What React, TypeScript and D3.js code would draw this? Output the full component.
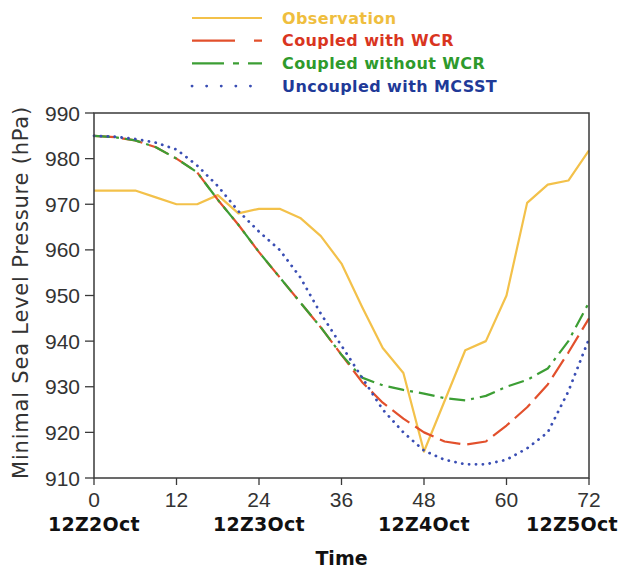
import React from "react";
import * as d3 from "d3";

// Forecast hours (every 3 h) for the model runs
const modelHours = [0, 3, 6, 9, 12, 15, 18, 21, 24, 27, 30, 33, 36, 39, 42, 45, 48, 51, 54, 57, 60, 63, 66, 69, 72];
// Observed best-track times and minimal SLP (hPa)
const obsHours = [0, 6, 9, 12, 15, 18, 21, 24, 27, 30, 33, 36, 39, 42, 45, 48, 54, 57, 60, 63, 66, 69, 72];
const observation = [973, 973, 971.5, 970, 970, 972, 968, 969, 969, 967, 963, 957, 947.5, 938.5, 933, 915.8, 938, 940, 950, 970.3, 974.3, 975.2, 981.8];
const coupledWCR = [985, 984.7, 984, 982.5, 980, 977, 971, 965.5, 959.5, 954, 948.5, 943, 937, 931, 926.5, 923, 920, 918, 917.3, 918, 921.5, 925.5, 930.5, 937.5, 945];
const coupledNoWCR = [985, 984.7, 984, 982.5, 980, 977, 971, 965.5, 959.5, 954, 948.5, 943, 937, 932, 930.3, 929.3, 928.5, 927.5, 927, 928, 930, 931.5, 934, 940, 948.5];
const uncoupledMCSST = [985, 984.8, 984.3, 983.5, 982, 978.5, 974, 968.5, 964, 960, 954, 946, 939, 932, 925, 920, 916, 914, 913, 913, 914, 916.5, 920, 929, 940.5];

const xTicks = [0, 12, 24, 36, 48, 60, 72];
const yTicks = [910, 920, 930, 940, 950, 960, 970, 980, 990];
const dateLabels = [
  { hour: 0, text: "12Z2Oct" },
  { hour: 24, text: "12Z3Oct" },
  { hour: 48, text: "12Z4Oct" },
  { hour: 72, text: "12Z5Oct" },
];

const W = 619;
const H = 569;
const plot = { left: 94, right: 589, top: 113, bottom: 478 };

type Series = {
  name: string;
  hours: number[];
  values: number[];
  color: string;
  textColor: string;
  dash: string;
  legendDash: string;
  cap: "butt" | "round";
};

const series: Series[] = [
  { name: "Observation", hours: obsHours, values: observation, color: "#F3C14A", textColor: "#EFBE3E", dash: "none", legendDash: "none", cap: "butt" },
  { name: "Coupled with WCR", hours: modelHours, values: coupledWCR, color: "#E2502C", textColor: "#D9351F", dash: "21 7", legendDash: "43 19 8", cap: "butt" },
  { name: "Coupled without WCR", hours: modelHours, values: coupledNoWCR, color: "#3C9E34", textColor: "#2E9A2C", dash: "16 6 3 6", legendDash: "32 9 6 9 14", cap: "butt" },
  { name: "Uncoupled with MCSST", hours: modelHours, values: uncoupledMCSST, color: "#3A4EB4", textColor: "#1F3A98", dash: "0.1 6.8", legendDash: "0.1 14.5", cap: "round" },
];

export default function App() {
  const x = d3.scaleLinear().domain([0, 72]).range([plot.left, plot.right]);
  const y = d3.scaleLinear().domain([910, 990]).range([plot.bottom, plot.top]);

  const tickFont = "'Liberation Sans', Arial, sans-serif";
  const boldFont = "'DejaVu Sans', sans-serif";
  const axisColor = "#3a3a3a";

  return (
    <svg
      width={W}
      height={H}
      viewBox={`0 0 ${W} ${H}`}
      style={{ position: "absolute", left: 0, top: 0, background: "#fff" }}
    >
      {/* legend */}
      {series.map((s, i) => {
        const ly = 18 + i * 22.7;
        return (
          <g key={s.name}>
            <line
              x1={192}
              x2={262}
              y1={ly}
              y2={ly}
              stroke={s.color}
              strokeWidth={s.cap === "round" ? 2.8 : 2.2}
              strokeDasharray={s.legendDash}
              strokeLinecap={s.cap}
            />
            <text
              x={282}
              y={ly}
              dy="0.36em"
              fill={s.textColor}
              fontFamily={boldFont}
              fontWeight="bold"
              fontSize={16}
              letterSpacing={0.4}
            >
              {s.name}
            </text>
          </g>
        );
      })}

      {/* data lines */}
      <g>
        {series.map((s) => {
          const line = d3
            .line<number>()
            .x((_, i) => x(s.hours[i]))
            .y((v) => y(v));
          return (
            <path
              key={s.name}
              d={line(s.values) ?? ""}
              fill="none"
              stroke={s.color}
              strokeWidth={s.cap === "round" ? 2.8 : 2.2}
              strokeDasharray={s.dash}
              strokeLinecap={s.cap}
              strokeLinejoin="round"
            />
          );
        })}
      </g>

      {/* frame */}
      <rect
        x={plot.left}
        y={plot.top}
        width={plot.right - plot.left}
        height={plot.bottom - plot.top}
        fill="none"
        stroke={axisColor}
        strokeWidth={1.5}
      />

      {/* y axis */}
      {yTicks.map((t) => (
        <g key={t}>
          <line x1={plot.left - 9} x2={plot.left} y1={y(t)} y2={y(t)} stroke={axisColor} strokeWidth={1.3} />
          <text
            x={plot.left - 14}
            y={y(t)}
            dy="0.36em"
            textAnchor="end"
            fontFamily={tickFont}
            fontSize={21}
            fill="#333"
          >
            {t}
          </text>
        </g>
      ))}

      {/* x axis */}
      {xTicks.map((t) => (
        <g key={t}>
          <line x1={x(t)} x2={x(t)} y1={plot.bottom} y2={plot.bottom + 7} stroke={axisColor} strokeWidth={1.3} />
          <text
            x={x(t)}
            y={507}
            textAnchor="middle"
            fontFamily={tickFont}
            fontSize={21}
            fill="#333"
          >
            {t}
          </text>
        </g>
      ))}
      {dateLabels.map((d) => {
        const halfWidth = 45;
        const cx = Math.max(halfWidth + 10, Math.min(W - halfWidth - 2, x(d.hour)));
        return (
          <text
            key={d.text}
            x={cx}
            y={531}
            textAnchor="middle"
            fontFamily={boldFont}
            fontWeight="bold"
            fontSize={19}
            letterSpacing={0.3}
            fill="#111"
          >
            {d.text}
          </text>
        );
      })}

      {/* axis titles */}
      <text
        x={(plot.left + plot.right) / 2}
        y={565}
        textAnchor="middle"
        fontFamily={boldFont}
        fontWeight="bold"
        fontSize={19}
        fill="#111"
      >
        Time
      </text>
      <text
        transform={`translate(28, ${(plot.top + plot.bottom) / 2 - 3}) rotate(-90)`}
        textAnchor="middle"
        fontFamily={boldFont}
        fontSize={21}
        letterSpacing={0.8}
        fill="#333"
      >
        Minimal Sea Level Pressure (hPa)
      </text>
    </svg>
  );
}
